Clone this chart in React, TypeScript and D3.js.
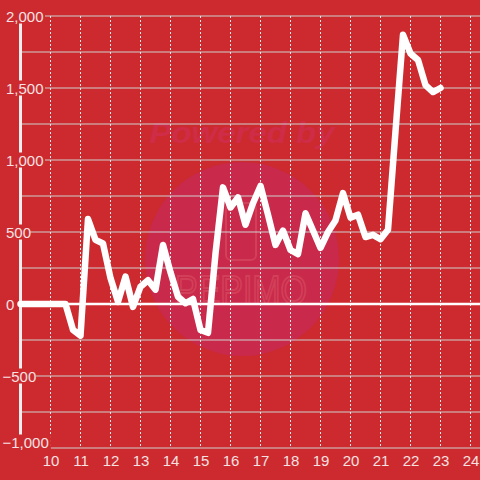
import React from "react";
import * as d3 from "d3";

const periods: number[] = [
  9.0, 9.25, 9.5, 9.75, 10.0, 10.25, 10.5, 10.75, 11.0, 11.25, 11.5, 11.75,
  12.0, 12.25, 12.5, 12.75, 13.0, 13.25, 13.5, 13.75, 14.0, 14.25, 14.5, 14.75,
  15.0, 15.25, 15.5, 15.75, 16.0, 16.25, 16.5, 16.75, 17.0, 17.25, 17.5, 17.75,
  18.0, 18.25, 18.5, 18.75, 19.0, 19.25, 19.5, 19.75, 20.0, 20.25, 20.5, 20.75,
  21.0, 21.25, 21.5, 21.75, 22.0, 22.25, 22.5, 22.75, 23.0,
];
const values: number[] = [
  0, 0, 0, 0, 0, 0, 0, -180, -220, 590, 445, 420,
  180, 15, 190, -20, 120, 165, 100, 410, 220, 50, 5, 35,
  -180, -200, 350, 810, 670, 740, 550, 700, 820, 620, 410, 510,
  375, 347, 630, 510, 390, 500, 580, 770, 600, 620, 465, 480,
  450, 515, 1200, 1870, 1740, 1695, 1520, 1472, 1500,
];
const xTicks: number[] = [10, 11, 12, 13, 14, 15, 16, 17, 18, 19, 20, 21, 22, 23, 24];
const yGrid: number[] = [-1000, -750, -500, -250, 0, 250, 500, 750, 1000, 1250, 1500, 1750, 2000];
const yLabels: number[] = [-1000, -500, 0, 500, 1000, 1500, 2000];

const W = 480;
const H = 480;
const BG = "#cc2a2f";
const TXT = "#f5e1e1";
const GRID = "#cfcfcf";

export default function App() {
  const x = d3.scaleLinear().domain([10, 24]).range([50.5, 470.5]);
  const y = d3.scaleLinear().domain([-1000, 2000]).range([448, 16]);
  const fmt = d3.format(",");
  const line = d3
    .line<number>()
    .x((_, i) => x(periods[i]))
    .y((d) => y(d));
  const axisX = x(9);

  return (
    <svg
      width={W}
      height={H}
      style={{ position: "absolute", left: 0, top: 0, display: "block" }}
      fontFamily="Liberation Sans, Arial, sans-serif"
    >
      <rect x={0} y={0} width={W} height={H} fill={BG} />
      {/* watermark */}
      <g>
        <text
          x={242}
          y={143}
          textAnchor="middle"
          fontSize={30}
          fontWeight="bold"
          fontStyle="italic"
          fill="#cf2c47"
          textLength={185}
          lengthAdjust="spacingAndGlyphs"
        >
          Powered by
        </text>
        <circle cx={242} cy={259} r={97} fill="#c9294a" />
        <rect x={226} y={203} width={30} height={57} rx={5} fill="none" stroke="#d23f58" strokeWidth={2} />
        <text
          x={241}
          y={304}
          textAnchor="middle"
          fontSize={40}
          fill="none"
          stroke="#d23f58"
          strokeWidth={2}
          textLength={132}
          lengthAdjust="spacingAndGlyphs"
        >
          PEPIMO
        </text>
      </g>
      {/* horizontal grid */}
      {yGrid.map((v) => (
        <line key={"h" + v} x1={axisX} x2={W} y1={y(v)} y2={y(v)} stroke={GRID} strokeWidth={1.2} />
      ))}
      {/* vertical dotted grid */}
      {xTicks.map((t) => (
        <line
          key={"v" + t}
          x1={x(t)}
          x2={x(t)}
          y1={y(2000)}
          y2={y(-1000)}
          stroke="#e8e8e8"
          strokeWidth={1}
          strokeDasharray="2,2"
        />
      ))}
      {/* zero line */}
      <line x1={axisX} x2={W} y1={y(0)} y2={y(0)} stroke="#ffffff" strokeWidth={2.5} />
      {/* vertical axis bar */}
      <line x1={axisX} x2={axisX} y1={y(2000)} y2={y(-1000)} stroke="#eeeeee" strokeWidth={3} />
      {/* data line */}
      <path
        d={line(values) || ""}
        fill="none"
        stroke="#ffffff"
        strokeWidth={6.5}
        strokeLinejoin="round"
        strokeLinecap="round"
      />
      {/* y labels */}
      {yLabels.map((v) => {
        const label = fmt(v);
        const tx = v < 0 ? 2.5 : 6;
        const w = label.length * 7.4 + (v < 0 ? 2 : 0);
        const cy = v === -1000 ? y(v) - 6 : y(v);
        return (
          <g key={"yl" + v}>
            <rect x={tx - 1} y={cy - 7.5} width={w + 3} height={15} fill={BG} />
            <text x={tx} y={cy + 5.5} fontSize={15} fill={TXT}>
              {label}
            </text>
          </g>
        );
      })}
      {/* x labels */}
      {xTicks.map((t) => (
        <text key={"xl" + t} x={x(t) + 0.5} y={466} fontSize={15} fill={TXT} textAnchor="middle">
          {t}
        </text>
      ))}
    </svg>
  );
}
